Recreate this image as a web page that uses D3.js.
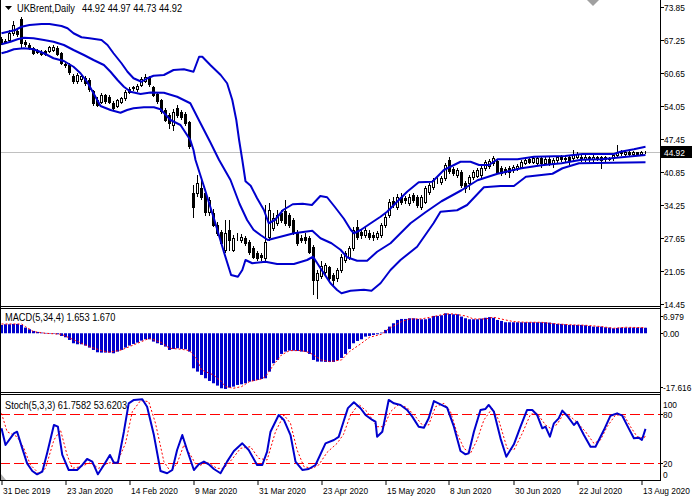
<!DOCTYPE html>
<html><head><meta charset="utf-8">
<script src="https://cdn.jsdelivr.net/npm/d3@7"></script>
<style>body{margin:0;background:#fff}svg{display:block}</style>
</head><body><svg id="c" width="696" height="500"></svg>
<script>
// ---------- DATA ----------
const symbolTitle = "UKBrent,Daily";
const lastQuote = "44.92 44.97 44.73 44.92";
const lastPrice = 44.92;
const opens = [67.5,66.8,67.3,68.6,69.0,71.5,66.8,66.2,65.6,64.9,
 64.9,65.0,65.1,65.3,65.7,64.6,62.5,62.3,60.0,59.0,
 59.4,59.6,59.2,57.0,55.3,54.9,56.2,55.9,54.6,54.1,
 54.9,55.6,56.9,57.6,57.4,58.3,59.1,59.7,57.8,56.5,
 55.2,53.2,52.2,50.2,53.6,52.8,52.5,50.8,36.6,36.6,
 37.6,36.7,32.9,32.6,30.25,28.9,25.3,29.25,25.3,27.8,
 27.25,27.6,26.9,25.6,24.6,24.2,23.6,27.9,29.6,30.6,
 32.6,33.0,32.25,31.25,28.9,27.6,27.9,27.6,25.9,19.25,
 20.0,20.9,21.9,20.25,19.6,21.25,23.25,23.9,25.6,29.9,
 28.9,28.25,28.6,28.25,27.9,28.25,30.25,32.25,35.0,33.9,
 35.9,35.6,34.6,36.25,35.9,33.9,34.9,36.9,37.9,39.2,
 38.9,39.6,43.2,41.4,40.25,40.9,38.6,38.6,39.9,40.05,
 40.25,41.6,42.05,42.6,43.1,41.6,41.4,41.6,41.25,41.6,
 41.9,42.7,43.4,42.9,42.7,43.6,42.7,43.4,42.7,43.25,
 43.8,43.5,43.8,43.6,43.9,43.9,43.4,43.8,43.4,43.8,
 43.8,43.4,43.5,43.6,44.25,44.9,44.4,44.8,44.4,44.8,
 44.5,44.92];
const highs = [67.9,67.4,69.3,71.0,69.5,71.9,67.2,66.6,65.9,65.5,
 65.2,65.3,66.1,66.2,66.0,64.8,62.9,62.6,60.4,60.6,
 60.5,60.0,59.6,57.3,55.8,56.6,56.5,56.2,55.0,55.5,
 55.9,57.2,57.9,58.1,58.4,59.8,60.5,60.0,58.1,56.9,
 55.5,53.6,52.6,53.4,54.3,53.2,52.8,51.0,38.3,40.2,
 39.9,37.0,35.9,33.5,30.9,29.3,31.3,31.25,28.3,28.6,
 28.5,28.0,27.3,26.0,25.0,24.6,34.25,34.6,32.6,33.2,
 33.2,35.2,32.7,31.6,29.3,28.2,28.6,28.0,26.3,21.25,
 23.0,22.6,22.1,20.7,21.7,24.4,25.1,26.1,29.8,31.25,
 29.5,29.9,29.2,28.8,29.1,30.7,32.4,35.4,35.8,36.4,
 36.6,36.1,36.5,36.7,36.3,36.3,38.0,38.7,39.7,39.8,
 40.0,42.6,43.9,41.8,41.6,41.2,39.0,40.2,41.2,41.6,
 42.0,43.2,43.4,44.05,43.4,42.0,41.8,42.0,42.3,42.4,
 43.3,43.6,43.7,43.9,44.0,44.0,43.8,43.8,43.6,44.1,
 44.2,44.0,44.1,45.2,44.8,44.3,44.3,44.1,44.2,44.1,
 44.1,44.1,43.9,44.6,46.2,45.2,45.0,45.0,45.0,44.9,
 45.1,44.97];
const lows = [66.4,66.6,67.0,68.2,68.0,65.7,66.1,65.5,64.4,64.6,
 64.2,64.2,64.9,65.0,64.3,62.4,61.9,60.5,58.6,58.7,
 59.0,58.3,57.0,54.3,54.0,54.6,54.7,54.6,53.4,53.9,
 54.7,55.3,56.7,57.3,57.0,58.1,58.9,58.1,56.0,54.6,
 52.7,51.0,49.6,49.3,51.9,51.5,50.3,45.6,31.9,36.0,
 35.5,32.2,32.3,30.0,28.3,26.2,24.9,25.2,25.0,27.3,
 26.8,26.2,24.5,23.6,23.3,23.25,23.25,27.3,29.3,30.2,
 30.9,30.2,29.9,28.5,26.3,26.8,26.7,24.6,16.5,15.6,
 19.7,20.5,19.2,18.3,19.1,20.9,22.8,23.5,25.3,27.5,
 27.6,27.9,27.4,27.3,27.5,27.9,29.9,31.9,33.9,33.5,
 34.5,34.7,34.3,34.8,33.8,33.5,34.6,36.5,37.5,38.7,
 38.5,39.3,40.6,40.3,39.9,37.9,36.9,37.5,39.5,39.8,
 39.9,41.3,41.7,42.3,40.6,40.2,40.4,39.9,40.9,41.2,
 41.6,42.4,42.6,42.6,42.4,41.9,42.4,42.3,41.9,42.9,
 43.0,43.1,42.5,43.3,43.6,43.0,43.1,43.0,43.0,43.3,
 41.6,43.0,43.2,43.3,44.0,44.3,44.2,44.2,44.2,44.3,
 44.3,44.73];
const closes = [66.7,67.1,68.6,70.2,68.4,66.6,66.5,65.9,64.7,65.1,
 64.5,64.5,65.8,65.9,64.5,62.6,62.3,60.8,59.0,60.2,
 60.0,58.6,57.4,54.7,54.3,56.2,55.0,54.9,53.7,55.2,
 55.6,56.9,57.5,57.8,58.0,59.5,59.8,58.4,56.3,55.0,
 53.0,51.3,50.7,52.9,52.3,51.9,50.7,46.0,33.9,38.6,
 35.9,32.9,35.25,30.3,28.7,26.7,28.6,27.25,27.6,27.9,
 27.9,26.6,24.9,23.9,23.6,23.9,26.9,33.25,31.6,32.25,
 31.25,30.6,30.25,28.9,26.6,27.25,27.25,24.9,19.25,20.6,
 22.0,22.2,19.6,19.3,21.25,23.9,24.6,25.6,29.25,27.9,
 28.25,29.25,27.9,27.8,28.6,30.25,31.9,34.9,34.4,35.9,
 34.9,35.25,35.9,35.25,34.25,35.9,37.6,38.25,39.25,39.3,
 39.6,42.2,41.0,40.7,41.25,38.25,37.6,39.9,40.9,41.25,
 41.6,42.9,43.1,43.6,40.9,40.6,40.9,40.9,41.9,42.05,
 42.9,43.25,42.9,43.6,43.6,42.6,43.4,42.7,43.25,43.8,
 43.4,43.6,43.25,44.25,44.45,43.4,43.9,43.4,43.9,43.6,
 43.25,43.8,43.6,44.25,44.9,44.6,44.8,44.4,44.8,44.5,
 44.9,44.92];

// Bollinger bands (bar index, price)
const upperIdx = [0,3.5,5,7,10,12,15,16.5,18,20,22,25,26.5,28,30,31.5,33,35,36.5,38,40.6,43,45.6,48,49.4,50.2,52.2,54.8,56.4,57.7,58.7,59.4,60.2,61,62.3,63.9,65.6,66.8,68.4,70.4,72.8,75.3,77.6,79.7,81.4,83.3,85.6,87.3,88.1,89.8,92.3,94.75,96.4,98.9,101.4,104.3,107.7,110.6,114.75,117.25,119.4,121.9,124,129,133.1,140.9,145.2,153.1,154.75,158.1,161];
const upperVal = [68.6,69.25,69.9,70.25,70.45,70.45,70.05,69.6,68.6,67.8,67.6,67.25,66.25,64.6,62.6,60.9,59.6,58.9,59.6,60.1,60.25,61.25,61.4,60.9,63.9,63.9,62.25,60.25,58.6,55.25,51.25,47.25,43.25,39.0,38.1,35.6,33.25,30.6,31.3,33.25,34.4,34.5,34.25,36.05,35.8,33.9,31.5,29.3,28.6,29.25,30.6,31.9,32.9,34.9,36.9,38.8,38.9,41.25,42.9,42.9,42.25,42.25,43.4,43.4,43.9,44.05,44.45,44.45,44.9,45.4,45.9];
const middleIdx = [0,2.25,4,5.6,8,10.6,13,15.6,18,20.6,23,25.6,27.25,29,30.6,32.25,34.75,37.25,40.6,43.9,47.2,49.75,52.2,54.4,57.25,59.5,61.4,63,64.75,66.6,69.75,73.1,77.7,79.75,82.5,84.75,86.4,88.9,91.4,93.9,97.25,99.75,102.25,106,110,115,119,124,130,135,140,145,150,155,161];
const middleVal = [66.4,66.9,67.4,67.7,67.6,67.25,66.9,66.25,65.25,64.25,63.25,62.25,60.9,59.25,57.9,56.9,56.45,56.75,56.7,55.9,54.6,50.6,46.8,43.25,39.25,34.5,31.25,29.3,28.25,27.25,27.9,28.6,29.1,27.6,26.6,25.3,23.8,23.1,23.1,24.9,26.6,28.6,30.6,32.8,35.0,37.2,39.2,40.5,41.6,42.2,42.6,43.3,43.4,43.8,44.25];
const lowerIdx = [0,1.4,3.1,5.6,8,10.6,13,15.6,18,19.75,21.4,23,24.75,27.25,29.75,31.4,33,35.6,38.1,39.75,42.25,44.75,47.2,48,48.5,50.6,53.2,55.7,57.4,59.1,60.2,61,62.7,66,68.9,73.1,76.4,77.9,79.75,82.25,83.9,85,87.25,90.6,92.5,94.75,97.25,99.75,103.9,108,109.75,113.9,116.4,120.6,124.75,128.1,131.1,137.75,140.25,144.4,152.75,161];
const lowerVal = [64.6,64.9,65.4,65.6,65.4,64.6,63.6,63.05,61.9,60.6,58.9,56.6,54.05,53.25,52.7,53.25,53.6,53.8,53.8,53.4,51.25,50.25,47.25,45.25,43.25,38.0,31.3,24.6,20.25,19.9,21.25,23.25,22.6,22.9,22.45,22.45,23.25,23.9,21.6,18.6,17.25,16.6,17.1,17.3,17.1,18.6,21.25,23.25,25.9,30.6,32.9,33.2,34.25,37.8,38.05,38.05,39.9,40.5,41.6,42.6,42.7,42.8];

// MACD(5,34,4)
const macdLabel = "MACD(5,34,4) 1.653 1.670";
const macdHist = [2.5,2.7,2.7,2.8,2.8,2.5,1.7,1.2,0.7,0.4,
 0.2,0.1,0.0,-0.1,-0.3,-0.8,-1.2,-2.0,-3.0,-3.3,
 -3.3,-3.7,-4.3,-5.0,-5.7,-5.8,-5.8,-5.8,-6.0,-5.5,
 -5.0,-4.3,-3.7,-3.2,-2.8,-2.2,-1.8,-1.8,-2.5,-3.0,
 -3.5,-4.0,-5.0,-4.7,-4.5,-4.7,-4.8,-5.5,-10.5,-11.5,
 -12.5,-13.5,-14.3,-15.0,-15.7,-16.5,-16.7,-16.3,-16.0,-15.5,
 -15.3,-15.0,-14.5,-14.3,-14.0,-13.7,-13.5,-11.5,-9.0,-8.0,
 -6.2,-5.5,-5.2,-5.2,-5.3,-5.5,-5.6,-6.2,-8.0,-8.5,
 -8.5,-8.6,-8.6,-8.6,-8.1,-7.4,-6.2,-4.7,-3.0,-2.3,
 -1.8,-1.0,-0.8,-0.5,-0.3,0.2,1.0,2.0,3.0,4.0,
 4.3,4.3,4.5,4.5,4.3,4.2,4.2,4.5,5.2,5.2,
 5.4,6.0,5.8,5.7,5.7,5.0,4.5,4.2,4.2,4.2,
 4.4,4.65,4.85,4.65,4.0,3.7,3.3,3.3,3.3,3.3,
 3.3,3.3,3.3,3.3,3.3,3.3,3.3,3.2,3.0,2.8,
 2.8,2.7,2.5,2.5,2.5,2.5,2.4,2.2,2.0,2.0,
 2.0,1.8,1.7,1.5,1.6,1.7,1.7,1.7,1.7,1.7,
 1.7,1.653];
const macdSigIdx = [0,5,6,8,11,15,17,20,22,25,27,30,32,35,37,40,42,45,47,49,50,53,55,56,58,60,62,65,66,68,70,72,75,77,80,82,85,87,90,92,95,97,100,102,105,108,111,113,116,118,121,123,126,128,131,135,137,140,143,146,150,153,156,161];
const macdSigVal = [2.78,2.78,2.0,0.5,0,-0.3,-1.4,-3.0,-4.0,-5.2,-5.7,-5.0,-4.0,-2.5,-1.5,-2.8,-4.5,-4.8,-5.2,-8.0,-11.0,-12.5,-14.5,-16.0,-16.5,-16.0,-14.5,-13.7,-13.0,-9.5,-6.5,-5.2,-5.2,-5.8,-8.0,-8.5,-8.0,-5.5,-3.0,-1.2,-0.3,1.5,3.5,4.3,4.3,5.0,5.8,5.8,5.2,4.3,4.3,4.8,4.0,3.5,3.3,3.3,3.0,2.7,2.5,2.4,2.0,1.5,1.8,1.67];
const macdTicks = [{v:6.979,t:"6.979"},{v:0,t:"0.00"},{v:-17.616,t:"-17.616"}];

// Stochastic(5,3,3)
const stochLabel = "Stoch(5,3,3) 61.7582 53.6203";
const stochKIdx = [0,1,3.1,3.9,5.2,6.4,7.7,8.9,10.2,11.4,13.1,14.1,15.2,16.8,18.9,20.2,21.4,22.7,24.1,25.6,27.1,28.1,29.1,30.6,31.8,33.1,35.2,36.4,38.1,39.75,41.4,42.7,43.9,45.2,46.4,48.1,49.3,50.6,51.8,53.1,54.75,56.4,58.1,60.2,61.8,63.9,65.2,66.4,67.25,69.3,70.6,72.25,73.5,75.2,76.8,78.5,81,83.1,84.3,85.6,86.6,88.1,89.75,91,92.7,93.5,93.9,95.2,96.8,98.1,99.75,101.4,102.7,104.3,105.6,106.8,108.1,109.75,111.4,113.1,114.75,116,116.8,118.1,119.75,121,121.8,123.1,124.75,126.2,128.1,129.75,131.4,132.7,133.9,135.2,136,137.1,138.1,139.3,140.2,141.4,143.1,143.9,145.6,147.25,148.5,150.6,152.25,153.9,155.2,156.8,158.1,159.3,160.1,161];
const stochK = [62.4,42.1,56.3,58.3,38.0,19.7,10.4,6.3,9.6,32,66.5,64.4,29.9,11.6,11.6,17.7,25.0,21.8,6.3,17.7,29.9,20.5,20.5,58.3,92.9,97,97.8,88.8,54.2,10.4,7.6,11.6,36,54.2,36,11.6,18.5,21.8,18.5,12.8,7.6,21.8,34.8,44.1,36,17.7,17.7,34,58.3,78.7,72.6,54.2,21.8,11.6,12.8,17.7,44.1,48.2,52,72,87,94.2,86.9,78.7,72.6,70.5,52.2,58.3,97,92.9,90.9,84.8,76.7,64.4,63.2,74.6,95.7,91.7,87.6,64.4,34.8,30.7,32,58.3,84.8,86,90.9,82.7,50.2,27.8,42.9,64.4,84.8,84.8,78.7,62.4,64.4,52.2,68.5,74.6,84,77.8,66.5,70.5,54.2,40,40,60.3,77.8,80.7,77.8,62.4,50.2,51,48.2,61.76];
const stochDIdx = [0,1.4,3.9,5.6,7.25,9.3,11,13.1,14.75,16.4,17.7,19.75,22.25,24.3,26.4,29,31,32.7,34.75,36.8,38.5,40.6,42.25,43.9,45.6,47.25,48.9,51.4,53.9,55.6,57.7,59.75,62.25,64.3,66.4,68.5,70.6,72.25,73.9,75.6,77.7,79.3,81.4,83.9,85.5,87.25,89.3,91.4,93.9,95.6,97.25,99.3,101.4,103.5,105.2,106.8,108.5,110.6,112.25,113.9,115.6,117.25,118.9,120.6,122.7,124.3,126.4,128.1,130.2,132.25,133.9,136,137.25,138.9,140.6,142.25,143.9,146,148.1,149.75,151.4,153.5,155.6,157.25,158.9,160.6,161];
const stochD = [80.7,58.3,52.2,38,17.7,7.6,13.6,48.2,60.3,29.9,13.6,15.7,20.5,13.6,19.7,21.8,44.1,82.7,96.2,95,68.5,21.8,9.6,19.7,42.1,29.9,15.7,21,13.6,13.6,25,38,40,25.8,23.8,58.3,78.7,68.5,36,15.7,13.6,17.7,33.1,44.1,55,78.7,91.7,82.7,64.4,64.4,82.7,91.7,87.6,76.7,66.5,66.5,88.8,92.9,82.7,56.3,38,32,48.2,72.6,86.9,72.6,38,36,56.3,79.5,80.7,66.5,62.4,67.3,80.7,76.7,69.7,58.3,44.1,48.2,64.4,78.7,78.7,64.4,52.2,50.2,53.62];
const stochLevels = [80, 20];
const stochTicks = [{v:100,t:"100",dy:5.5},{v:80,t:"80",dy:0},{v:20,t:"20",dy:0},{v:0,t:"0",dy:-6.5}];

const priceTicks = [73.85,67.25,60.65,54.05,47.45,40.85,34.25,27.65,21.05,14.45];
const dateLabels = ["31 Dec 2019","23 Jan 2020","14 Feb 2020","9 Mar 2020","31 Mar 2020","23 Apr 2020","15 May 2020","8 Jun 2020","30 Jun 2020","22 Jul 2020","13 Aug 2020"];
const dateBars = [0,16,32,48,64,80,96,112,128,144,160];

// ---------- DRAW ----------
const svg = d3.select('#c');
const FONT = '"Liberation Sans", Arial, sans-serif';
const BLUE = '#0000CD', RED = '#FF0000';
const AX = 660;
const x = d3.scaleLinear().domain([0,160]).range([1.5,641.5]);
const yP = d3.scaleLinear().domain([13.85,75.25]).range([307,0]);
const yM = d3.scaleLinear().domain([-17.616,6.979]).range([392,310]);
const yS = d3.scaleLinear().domain([0,100]).range([479.5,397.5]);

function T(g,tx,ty,s,fs,sx,fill){
  return g.append('text').attr('transform',`translate(${tx},${ty}) scale(${sx},1)`)
    .attr('font-family',FONT).attr('font-size',fs).attr('fill',fill||'#000').text(s);
}
const defs = svg.append('defs');
function clip(id,x0,y0,w,h){defs.append('clipPath').attr('id',id).append('rect').attr('x',x0).attr('y',y0).attr('width',w).attr('height',h);}
clip('cMain',0,0,AX,306); clip('cMacd',0,309,AX,83); clip('cSto',0,395,AX,85);

// price line
svg.append('line').attr('x1',0).attr('x2',AX).attr('y1',Math.round(yP(lastPrice))+0.5).attr('y2',Math.round(yP(lastPrice))+0.5)
  .attr('stroke','#C0C0C0').attr('stroke-width',1);

// candles
const n = opens.length;
const gC = svg.append('g').attr('clip-path','url(#cMain)');
const idx = d3.range(n);
gC.selectAll('line.wick').data(idx).join('line')
  .attr('x1',i=>x(i)).attr('x2',i=>x(i))
  .attr('y1',i=>Math.round(yP(highs[i]))).attr('y2',i=>Math.round(yP(lows[i]))+1)
  .attr('stroke','#000').attr('stroke-width',1);
gC.selectAll('rect.bear').data(idx.filter(i=>closes[i]<opens[i])).join('rect')
  .attr('x',i=>x(i)-1.5).attr('width',3)
  .attr('y',i=>Math.round(yP(opens[i])))
  .attr('height',i=>Math.max(1,Math.round(yP(closes[i]))-Math.round(yP(opens[i]))+1))
  .attr('fill','#000');
gC.selectAll('rect.bull').data(idx.filter(i=>closes[i]>=opens[i])).join('rect')
  .attr('x',i=>x(i)-1).attr('width',2)
  .attr('y',i=>Math.round(yP(closes[i]))+0.5)
  .attr('height',i=>Math.max(0,Math.round(yP(opens[i]))-Math.round(yP(closes[i]))))
  .attr('fill','#fff').attr('stroke','#000').attr('stroke-width',1);

// bands
const gB = svg.append('g').attr('clip-path','url(#cMain)');
const bandLine = d3.line().x(d=>x(d[0])).y(d=>yP(d[1]));
[[upperIdx,upperVal],[middleIdx,middleVal],[lowerIdx,lowerVal]].forEach(([a,b])=>{
  gB.append('path').attr('d',bandLine(d3.zip(a,b))).attr('fill','none').attr('stroke',BLUE).attr('stroke-width',2).attr('stroke-linejoin','round');
});

// MACD
const gM = svg.append('g').attr('clip-path','url(#cMacd)');
const y0 = yM(0);
gM.selectAll('rect').data(idx).join('rect')
  .attr('x',i=>x(i)-1.5).attr('width',3)
  .attr('y',i=>Math.min(y0,yM(macdHist[i])))
  .attr('height',i=>Math.max(0.5,Math.abs(yM(macdHist[i])-y0)))
  .attr('fill',BLUE);
gM.append('path').attr('d',d3.line().x(d=>x(d[0])).y(d=>yM(d[1]))(d3.zip(macdSigIdx,macdSigVal)))
  .attr('fill','none').attr('stroke',RED).attr('stroke-width',1).attr('stroke-dasharray','2,2');

// Stochastic
const gS = svg.append('g').attr('clip-path','url(#cSto)');
stochLevels.forEach(v=>{
  gS.append('line').attr('x1',0).attr('x2',AX).attr('y1',Math.round(yS(v))+0.5).attr('y2',Math.round(yS(v))+0.5)
    .attr('stroke',RED).attr('stroke-width',1).attr('stroke-dasharray','10,4');
});
gS.append('path').attr('d',d3.line().x(d=>x(d[0])).y(d=>yS(d[1]))(d3.zip(stochDIdx,stochD)))
  .attr('fill','none').attr('stroke',RED).attr('stroke-width',1).attr('stroke-dasharray','2,2');
gS.append('path').attr('d',d3.line().x(d=>x(d[0])).y(d=>yS(d[1]))(d3.zip(stochKIdx,stochK)))
  .attr('fill','none').attr('stroke',BLUE).attr('stroke-width',2).attr('stroke-linejoin','round');

// frames
const fr = svg.append('g').attr('stroke','#000').attr('stroke-width',1);
[306.5,308.5,392.5,394.5,480.5].forEach(yy=>fr.append('line').attr('x1',0).attr('x2',AX+1).attr('y1',yy).attr('y2',yy));
fr.append('line').attr('x1',AX+0.5).attr('x2',AX+0.5).attr('y1',0).attr('y2',481);
fr.append('line').attr('x1',0.5).attr('x2',0.5).attr('y1',0).attr('y2',481);

// right axis: price
const ax = svg.append('g');
priceTicks.forEach(v=>{
  const yy = Math.round(yP(v))+0.5;
  ax.append('line').attr('x1',AX).attr('x2',AX+4).attr('y1',yy).attr('y2',yy).attr('stroke','#000');
  T(ax,664,yy+3.5,v.toFixed(2),9.5,0.88);
});
const ly = Math.round(yP(lastPrice));
ax.append('rect').attr('x',AX+1).attr('y',ly-6).attr('width',31).attr('height',12).attr('fill','#000');
T(ax,664,ly+3.5,lastPrice.toFixed(2),9.5,0.88,'#fff');

// MACD axis
macdTicks.forEach(d=>{
  const yy = Math.round(yM(d.v))+0.5;
  let ty = yy; if(d.v===6.979) ty = yy+6; if(d.v===-17.616) ty = yy-5;
  ax.append('line').attr('x1',AX).attr('x2',AX+3).attr('y1',ty).attr('y2',ty).attr('stroke','#000');
  T(ax,663,ty+3.5,d.t,9.5,0.88);
});
// Stoch axis
stochTicks.forEach(d=>{
  const ty = Math.round(yS(d.v))+0.5+d.dy;
  if(d.dy===0) ax.append('line').attr('x1',AX).attr('x2',AX+3).attr('y1',ty).attr('y2',ty).attr('stroke','#000');
  T(ax,663,ty+3.5,d.t,9.5,0.88);
});

// date axis
dateBars.forEach((b,k)=>{
  const xx = Math.round(x(b));
  ax.append('line').attr('x1',xx).attr('x2',xx).attr('y1',481).attr('y2',485).attr('stroke','#000');
  T(ax,xx+1,494,dateLabels[k],9.5,0.88);
});

// titles
svg.append('path').attr('d','M5,6 L12,6 L8.5,10 Z').attr('fill','#000');
T(svg,17,12,symbolTitle,10.5,0.88);
T(svg,82,12,lastQuote,10.5,0.88);
T(svg,5,321,macdLabel,10.5,0.88);
T(svg,5,409,stochLabel,10.5,0.88);
// grey markers
svg.append('path').attr('d','M587,0 L599,0 L593,6 Z').attr('fill','#A0A0A0');
svg.append('path').attr('d','M1,474 L1,480 L6,480 Z').attr('fill','#B0B0B0');
</script>
</body></html>
